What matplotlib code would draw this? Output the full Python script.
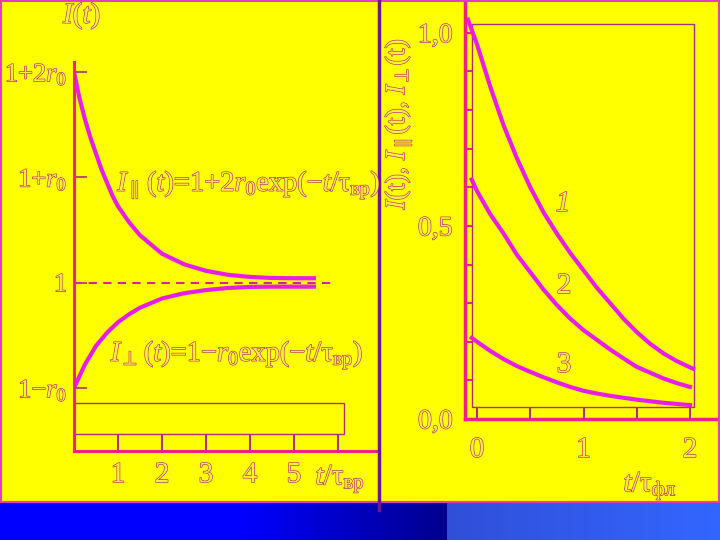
import matplotlib
matplotlib.use("Agg")
import matplotlib.pyplot as plt
import matplotlib.patheffects as pe
from matplotlib.patches import Rectangle
import numpy as np

plt.rcParams['font.family'] = ['Liberation Serif', 'DejaVu Serif']
plt.rcParams['mathtext.fontset'] = 'custom'
plt.rcParams['mathtext.rm'] = 'Liberation Serif'
plt.rcParams['mathtext.it'] = 'Liberation Serif:italic'
plt.rcParams['mathtext.bf'] = 'Liberation Serif:bold'

# left panel: relaxation of polarised components, t in units of tau_vr
t_left = [0, 0.125, 0.25, 0.375, 0.5, 0.625, 0.75, 0.875, 1.0, 1.25, 1.5, 2.0, 2.5, 3.0, 3.5, 4.0, 4.5, 5.0, 5.5]
I_par = [1.8, 1.70, 1.62, 1.55, 1.49, 1.43, 1.38, 1.33, 1.29, 1.23, 1.18, 1.11, 1.07, 1.045, 1.03, 1.022, 1.018, 1.017, 1.017]
I_perp = [0.6, 0.645, 0.69, 0.725, 0.76, 0.785, 0.81, 0.83, 0.85, 0.88, 0.905, 0.94, 0.96, 0.972, 0.98, 0.984, 0.985, 0.985, 0.985]
left_yticks = [0.6, 1.0, 1.4, 1.8]
left_ylabels = ['1−$r_0$', '1', '1+$r_0$', '1+2$r_0$']
left_xticks = [1, 2, 3, 4, 5, 6]
left_xlabels = ['1', '2', '3', '4', '5', '']

# right panel: decay curves 1, 2, 3, t in units of tau_fl
t1 = [-0.085, 0, 0.125, 0.25, 0.375, 0.5, 0.625, 0.75, 0.875, 1.0, 1.125, 1.25, 1.375, 1.5, 1.625, 1.75, 1.875, 2.03]
curve1 = [1.034, 0.97, 0.86, 0.76, 0.675, 0.60, 0.535, 0.48, 0.43, 0.385, 0.34, 0.30, 0.26, 0.225, 0.195, 0.17, 0.15, 0.13]
t23 = [-0.05, 0, 0.125, 0.25, 0.375, 0.5, 0.625, 0.75, 0.875, 1.0, 1.125, 1.25, 1.375, 1.5, 1.625, 1.75, 1.875, 2.0]
curve2 = [0.62, 0.59, 0.53, 0.48, 0.425, 0.38, 0.335, 0.295, 0.26, 0.23, 0.205, 0.18, 0.157, 0.135, 0.12, 0.105, 0.093, 0.083]
curve3 = [0.21, 0.20, 0.176, 0.155, 0.137, 0.122, 0.108, 0.095, 0.083, 0.073, 0.066, 0.06, 0.055, 0.05, 0.046, 0.042, 0.039, 0.036]
right_xticks = [0, 0.5, 1, 1.5, 2]
right_xlabels = ['0', '', '1', '', '2']
right_yticks = [0.0, 0.5, 1.0]
right_ylabels = ['0,0', '0,5', '1,0']

W, H = 720, 540
YELLOW = '#ffff00'
LINE = '#e81ee8'
AXIS = '#f0208a'
THIN = '#a83080'
fx = lambda px: px / W
fy = lambda py: 1 - py / H

outline = [pe.Stroke(linewidth=0.9, foreground='#b8286e'), pe.Normal()]
TXT = dict(color='#fff040', path_effects=outline)

fig = plt.figure(figsize=(7.2, 5.4), dpi=100, facecolor=YELLOW)

# blue band at the bottom
band = fig.add_axes([0, 0, 1, 38 / H])
grad = np.zeros((2, W, 3))
xs = np.arange(W)
k = np.clip((xs - 240) / (447 - 240), 0, 1)
grad[:, :, 2] = np.where(xs < 447, 1.0 - 0.45 * k, 0)
k2 = (xs - 447) / (W - 447)
grad[:, :, 0] = np.where(xs >= 447, 0.19 + 0.01 * k2, 0)
grad[:, :, 1] = np.where(xs >= 447, 0.31 + 0.09 * k2, 0)
grad[:, :, 2] = np.where(xs >= 447, 0.85 + 0.15 * k2, grad[0, :, 2])
band.imshow(grad, aspect='auto', extent=[0, 1, 0, 1])
band.axis('off')

# frame and divider
fig.add_artist(Rectangle((0.001, 38 / H), 0.997, 1 - 38 / H - 0.002, transform=fig.transFigure,
                         fill=False, edgecolor='#e040c0', linewidth=1.5))
fig.add_artist(plt.Line2D([fx(379), fx(379)], [fy(510), 1], transform=fig.transFigure,
                          color='#6a1890', linewidth=2.5))

# ---------- left panel ----------
ax1 = fig.add_axes([fx(74), fy(451), 302 / W, (451 - 62) / H])
ax1.set_facecolor('none')
ax1.set_xlim(0, 6.864)
ax1.set_ylim(0.361, 1.838)
for s in ['top', 'right']:
    ax1.spines[s].set_visible(False)
for s in ['left', 'bottom']:
    ax1.spines[s].set_color(AXIS)
    ax1.spines[s].set_linewidth(2.2)

ax1.plot(t_left, I_par, color=LINE, linewidth=3, solid_capstyle='butt')
ax1.plot(t_left, I_perp, color=LINE, linewidth=3, solid_capstyle='butt')
ax1.plot([0, 5.95], [1, 1], color='#d02890', linewidth=1.5, dashes=(4, 3))
ax1.add_patch(Rectangle((0, 0.425), 6.14, 0.118, fill=False, edgecolor=THIN, linewidth=1))

ax1.set_yticks(left_yticks)
ax1.set_yticklabels(left_ylabels)
ax1.tick_params(axis='y', direction='in', length=9, width=1.2, color=THIN, pad=5, labelsize=19)
ax1.set_xticks(left_xticks)
ax1.set_xticklabels(left_xlabels)
ax1.tick_params(axis='x', direction='in', length=12, width=1.5, color=THIN, pad=8, labelsize=21)
for lab in ax1.get_xticklabels() + ax1.get_yticklabels():
    lab.set_color(TXT['color'])
    lab.set_path_effects(outline)

fig.text(fx(340), fy(479), r'$t$/τ$_{\mathrm{вр}}$', fontsize=21, ha='center', va='center', **TXT)
fig.text(fx(82), fy(16), r'$I(t)$', fontsize=21, ha='center', va='center', **TXT)
fig.text(fx(249), fy(185), r'$I_{\parallel}\,(t)$=1+2$r_0$exp(−$t$/τ$_{\mathrm{вр}}$)',
         fontsize=20.5, ha='center', va='center', **TXT)
fig.text(fx(237), fy(355), r'$I_{\perp}\,(t)$=1−$r_0$exp(−$t$/τ$_{\mathrm{вр}}$)',
         fontsize=20.5, ha='center', va='center', **TXT)

# ---------- right panel ----------
ax2 = fig.add_axes([fx(465), fy(419), 255 / W, 419 / H])
ax2.set_facecolor('none')
ax2.set_xlim(-0.113, 2.282)
ax2.set_ylim(0, 1.085)
for s in ['top', 'right']:
    ax2.spines[s].set_visible(False)
for s in ['left', 'bottom']:
    ax2.spines[s].set_color(AXIS)
    ax2.spines[s].set_linewidth(2.5)

ax2.add_patch(Rectangle((-0.047, 0.031), 2.084, 0.992, fill=False, edgecolor=THIN, linewidth=1))
ax2.plot(t1, curve1, color=LINE, linewidth=3)
ax2.plot(t23, curve2, color=LINE, linewidth=3)
ax2.plot(t23, curve3, color=LINE, linewidth=3)

ax2.set_yticks(right_yticks)
ax2.set_yticklabels(right_ylabels)
ax2.set_yticks(np.arange(1, 11) / 10, minor=True)
ax2.tick_params(axis='y', which='both', direction='in', length=5, width=1.5, color=AXIS,
                pad=9, labelsize=20)
ax2.set_xticks(right_xticks)
ax2.set_xticklabels(right_xlabels)
ax2.tick_params(axis='x', direction='in', length=9, width=1.5, color=THIN, pad=13, labelsize=21)
for lab in ax2.get_xticklabels() + ax2.get_yticklabels():
    lab.set_color(TXT['color'])
    lab.set_path_effects(outline)

fig.text(fx(563), fy(204), '1', fontsize=21, style='italic', ha='center', va='center', **TXT)
fig.text(fx(564), fy(286), '2', fontsize=21, ha='center', va='center', **TXT)
fig.text(fx(564), fy(365), '3', fontsize=21, ha='center', va='center', **TXT)
fig.text(fx(650), fy(486), r'$t$/τ$_{\mathrm{фл}}$', fontsize=21, ha='center', va='center', **TXT)
fig.text(fx(398), fy(124), r'$I$(t), $I_{\parallel}$(t), $I_{\perp}$(t)', fontsize=20,
         rotation=90, ha='center', va='center', **TXT)

fig.savefig('out.png', dpi=100, facecolor=YELLOW)
